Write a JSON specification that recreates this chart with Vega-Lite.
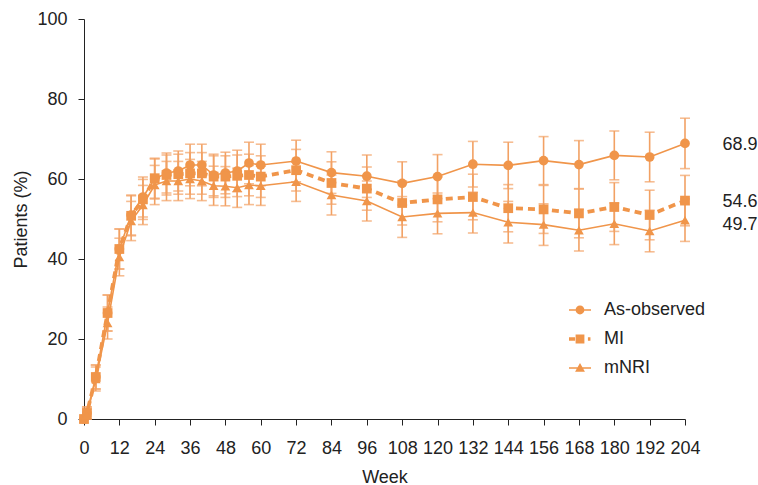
{
  "$schema": "https://vega.github.io/schema/vega-lite/v6.json",
  "width": 601,
  "height": 400,
  "autosize": {"type": "none"},
  "padding": {"left": 84, "top": 19, "right": 73, "bottom": 66},
  "background": "white",
  "config": {
    "view": {"stroke": null},
    "font": "Liberation Sans",
    "axis": {
      "domainColor": "#222222", "tickColor": "#222222", "labelColor": "#222222", "titleColor": "#222222",
      "labelFontSize": 18, "titleFontSize": 18, "titleFontWeight": "normal",
      "labelFont": "Liberation Sans", "titleFont": "Liberation Sans",
      "tickSize": 6, "grid": false, "domainWidth": 1, "tickWidth": 1
    },
    "legend": {"labelFont": "Liberation Sans"}
  },
  "datasets": {
    "main": [
      {"week": 0, "series": "As-observed", "value": 0, "lower": 0, "upper": 0},
      {"week": 1, "series": "As-observed", "value": 1.5, "lower": 0, "upper": 3},
      {"week": 4, "series": "As-observed", "value": 10.5, "lower": 7.5, "upper": 13.5},
      {"week": 8, "series": "As-observed", "value": 26.5, "lower": 22, "upper": 31},
      {"week": 12, "series": "As-observed", "value": 42.5, "lower": 37.5, "upper": 47.5},
      {"week": 16, "series": "As-observed", "value": 51, "lower": 46, "upper": 56},
      {"week": 20, "series": "As-observed", "value": 55.5, "lower": 50.5, "upper": 60.5},
      {"week": 24, "series": "As-observed", "value": 60, "lower": 55, "upper": 65},
      {"week": 28, "series": "As-observed", "value": 61.5, "lower": 56.5, "upper": 66.5},
      {"week": 32, "series": "As-observed", "value": 62, "lower": 57, "upper": 67},
      {"week": 36, "series": "As-observed", "value": 63.5, "lower": 58.3, "upper": 68.7},
      {"week": 40, "series": "As-observed", "value": 63.5, "lower": 58.3, "upper": 68.7},
      {"week": 44, "series": "As-observed", "value": 61, "lower": 55.8, "upper": 66.2},
      {"week": 48, "series": "As-observed", "value": 61.5, "lower": 56.3, "upper": 66.7},
      {"week": 52, "series": "As-observed", "value": 62, "lower": 56.8, "upper": 67.2},
      {"week": 56, "series": "As-observed", "value": 64, "lower": 58.8, "upper": 69.2},
      {"week": 60, "series": "As-observed", "value": 63.5, "lower": 58.3, "upper": 68.7},
      {"week": 72, "series": "As-observed", "value": 64.5, "lower": 59.3, "upper": 69.7},
      {"week": 84, "series": "As-observed", "value": 61.6, "lower": 56.4, "upper": 66.8},
      {"week": 96, "series": "As-observed", "value": 60.7, "lower": 55.4, "upper": 66},
      {"week": 108, "series": "As-observed", "value": 58.9, "lower": 53.5, "upper": 64.3},
      {"week": 120, "series": "As-observed", "value": 60.6, "lower": 55.1, "upper": 66.1},
      {"week": 132, "series": "As-observed", "value": 63.7, "lower": 58, "upper": 69.4},
      {"week": 144, "series": "As-observed", "value": 63.4, "lower": 57.6, "upper": 69.2},
      {"week": 156, "series": "As-observed", "value": 64.6, "lower": 58.6, "upper": 70.6},
      {"week": 168, "series": "As-observed", "value": 63.6, "lower": 57.6, "upper": 69.6},
      {"week": 180, "series": "As-observed", "value": 65.9, "lower": 59.8, "upper": 72},
      {"week": 192, "series": "As-observed", "value": 65.5, "lower": 59.3, "upper": 71.7},
      {"week": 204, "series": "As-observed", "value": 68.9, "lower": 62.6, "upper": 75.2},
      {"week": 0, "series": "MI", "value": 0, "lower": 0, "upper": 0},
      {"week": 1, "series": "MI", "value": 1.5, "lower": 0, "upper": 3},
      {"week": 4, "series": "MI", "value": 10.5, "lower": 7.5, "upper": 13.5},
      {"week": 8, "series": "MI", "value": 26.5, "lower": 22, "upper": 31},
      {"week": 12, "series": "MI", "value": 42.5, "lower": 37.5, "upper": 47.5},
      {"week": 16, "series": "MI", "value": 50.8, "lower": 45.8, "upper": 55.8},
      {"week": 20, "series": "MI", "value": 54.9, "lower": 49.9, "upper": 59.9},
      {"week": 24, "series": "MI", "value": 60.2, "lower": 55.2, "upper": 65.2},
      {"week": 28, "series": "MI", "value": 61, "lower": 56, "upper": 66},
      {"week": 32, "series": "MI", "value": 61.2, "lower": 56.2, "upper": 66.2},
      {"week": 36, "series": "MI", "value": 61.4, "lower": 56.2, "upper": 66.6},
      {"week": 40, "series": "MI", "value": 61.4, "lower": 56.2, "upper": 66.6},
      {"week": 44, "series": "MI", "value": 60.6, "lower": 55.4, "upper": 65.8},
      {"week": 48, "series": "MI", "value": 60.6, "lower": 55.4, "upper": 65.8},
      {"week": 52, "series": "MI", "value": 60.8, "lower": 55.6, "upper": 66},
      {"week": 56, "series": "MI", "value": 61, "lower": 55.8, "upper": 66.2},
      {"week": 60, "series": "MI", "value": 60.6, "lower": 55.4, "upper": 65.8},
      {"week": 72, "series": "MI", "value": 62.2, "lower": 57, "upper": 67.4},
      {"week": 84, "series": "MI", "value": 59, "lower": 53.7, "upper": 64.3},
      {"week": 96, "series": "MI", "value": 57.6, "lower": 52.2, "upper": 63},
      {"week": 108, "series": "MI", "value": 54, "lower": 48.5, "upper": 59.5},
      {"week": 120, "series": "MI", "value": 54.9, "lower": 49.3, "upper": 60.5},
      {"week": 132, "series": "MI", "value": 55.5, "lower": 49.8, "upper": 61.2},
      {"week": 144, "series": "MI", "value": 52.7, "lower": 46.8, "upper": 58.6},
      {"week": 156, "series": "MI", "value": 52.4, "lower": 46.4, "upper": 58.4},
      {"week": 168, "series": "MI", "value": 51.4, "lower": 45.3, "upper": 57.5},
      {"week": 180, "series": "MI", "value": 53, "lower": 46.9, "upper": 59.1},
      {"week": 192, "series": "MI", "value": 51, "lower": 44.8, "upper": 57.2},
      {"week": 204, "series": "MI", "value": 54.6, "lower": 48.3, "upper": 60.9},
      {"week": 0, "series": "mNRI", "value": 0, "lower": 0, "upper": 0},
      {"week": 1, "series": "mNRI", "value": 1, "lower": 0, "upper": 2.5},
      {"week": 4, "series": "mNRI", "value": 10, "lower": 7, "upper": 13},
      {"week": 8, "series": "mNRI", "value": 24, "lower": 20, "upper": 28},
      {"week": 12, "series": "mNRI", "value": 40.5, "lower": 35.8, "upper": 45.2},
      {"week": 16, "series": "mNRI", "value": 49.5, "lower": 44.6, "upper": 54.4},
      {"week": 20, "series": "mNRI", "value": 53.5, "lower": 48.6, "upper": 58.4},
      {"week": 24, "series": "mNRI", "value": 58.5, "lower": 53.6, "upper": 63.4},
      {"week": 28, "series": "mNRI", "value": 59.5, "lower": 54.6, "upper": 64.4},
      {"week": 32, "series": "mNRI", "value": 59.5, "lower": 54.6, "upper": 64.4},
      {"week": 36, "series": "mNRI", "value": 60, "lower": 55.1, "upper": 64.9},
      {"week": 40, "series": "mNRI", "value": 59.5, "lower": 54.6, "upper": 64.4},
      {"week": 44, "series": "mNRI", "value": 58.3, "lower": 53.4, "upper": 63.2},
      {"week": 48, "series": "mNRI", "value": 58.2, "lower": 53.3, "upper": 63.1},
      {"week": 52, "series": "mNRI", "value": 57.8, "lower": 52.9, "upper": 62.7},
      {"week": 56, "series": "mNRI", "value": 58.5, "lower": 53.6, "upper": 63.4},
      {"week": 60, "series": "mNRI", "value": 58.3, "lower": 53.4, "upper": 63.2},
      {"week": 72, "series": "mNRI", "value": 59.3, "lower": 54.4, "upper": 64.2},
      {"week": 84, "series": "mNRI", "value": 56, "lower": 51, "upper": 61},
      {"week": 96, "series": "mNRI", "value": 54.5, "lower": 49.5, "upper": 59.5},
      {"week": 108, "series": "mNRI", "value": 50.5, "lower": 45.4, "upper": 55.6},
      {"week": 120, "series": "mNRI", "value": 51.4, "lower": 46.3, "upper": 56.5},
      {"week": 132, "series": "mNRI", "value": 51.6, "lower": 46.5, "upper": 56.7},
      {"week": 144, "series": "mNRI", "value": 49.2, "lower": 44, "upper": 54.4},
      {"week": 156, "series": "mNRI", "value": 48.6, "lower": 43.4, "upper": 53.8},
      {"week": 168, "series": "mNRI", "value": 47.2, "lower": 42, "upper": 52.4},
      {"week": 180, "series": "mNRI", "value": 48.8, "lower": 43.6, "upper": 54},
      {"week": 192, "series": "mNRI", "value": 47, "lower": 41.8, "upper": 52.2},
      {"week": 204, "series": "mNRI", "value": 49.7, "lower": 44.4, "upper": 55}
    ],
    "labels": [
      {"week": 204, "series": "As-observed", "value": 68.9, "label": "68.9"},
      {"week": 204, "series": "MI", "value": 54.6, "label": "54.6"},
      {"week": 204, "series": "mNRI", "value": 49.7, "label": "49.7"}
    ]
  },
  "data": {"name": "main"},
  "encoding": {
    "x": {
      "field": "week", "type": "quantitative",
      "scale": {"domain": [0, 204], "nice": false, "zero": false},
      "axis": {"title": "Week", "values": [0, 12, 24, 36, 48, 60, 72, 84, 96, 108, 120, 132, 144, 156, 168, 180, 192, 204], "labelPadding": 14, "titlePadding": 11, "labelFlush": false}
    }
  },
  "layer": [
    {
      "mark": {"type": "rule", "color": "#F2A164", "strokeWidth": 1.6},
      "encoding": {
        "y": {"field": "lower", "type": "quantitative", "scale": {"domain": [0, 100], "nice": false}, "axis": {"title": "Patients (%)", "values": [0, 20, 40, 60, 80, 100], "labelPadding": 11, "titlePadding": 6}},
        "y2": {"field": "upper"}
      }
    },
    {
      "mark": {"type": "tick", "orient": "horizontal", "color": "#F2A164", "size": 10, "thickness": 1.6},
      "encoding": {"y": {"field": "lower", "type": "quantitative"}}
    },
    {
      "mark": {"type": "tick", "orient": "horizontal", "color": "#F2A164", "size": 10, "thickness": 1.6},
      "encoding": {"y": {"field": "upper", "type": "quantitative"}}
    },
    {
      "transform": [{"filter": "datum.series !== 'MI'"}],
      "mark": {"type": "line", "color": "#F0954A", "strokeWidth": 1.6},
      "encoding": {
        "y": {"field": "value", "type": "quantitative"},
        "detail": {"field": "series"}
      }
    },
    {
      "transform": [{"filter": "datum.series === 'MI'"}],
      "mark": {"type": "line", "color": "#F0954A", "strokeWidth": 3.8, "strokeDash": [7, 5]},
      "encoding": {
        "y": {"field": "value", "type": "quantitative"}
      }
    },
    {
      "mark": {"type": "point", "filled": true, "color": "#F0954A", "opacity": 1, "size": 95},
      "encoding": {
        "y": {"field": "value", "type": "quantitative"},
        "shape": {"field": "series", "type": "nominal", "scale": {"domain": ["As-observed", "MI", "mNRI"], "range": ["circle", "square", "triangle-up"]}, "legend": null}
      }
    },
    {
      "transform": [{"filter": "datum.week < 0"}],
      "mark": {"type": "point", "filled": true, "color": "#F0954A", "opacity": 1, "size": 484, "strokeWidth": 0},
      "encoding": {
        "y": {"field": "value", "type": "quantitative"},
        "shape": {
          "field": "series", "type": "nominal",
          "scale": {"domain": ["As-observed", "MI", "mNRI"], "range": [
            "M-1,-0.07H1V0.07H-1ZM0.4,0A0.4,0.4,0,1,1,-0.4,0A0.4,0.4,0,1,1,0.4,0Z",
            "M-1,-0.15H-0.45V0.15H-1ZM0.72,-0.15H0.95V0.15H0.72ZM-0.4,-0.4H0.4V0.4H-0.4Z",
            "M-1,-0.07H1V0.07H-1ZM0,-0.45L0.45,0.35H-0.45Z"
          ]},
          "legend": {
            "title": null, "orient": "none", "legendX": 485, "legendY": 280,
            "symbolSize": 484, "symbolStrokeWidth": 0, "symbolFillColor": "#F0954A", "symbolOpacity": 1,
            "labelFontSize": 18, "labelColor": "#222222", "labelOffset": 13, "rowPadding": 9
          }
        }
      }
    },
    {
      "data": {"name": "labels"},
      "transform": [{"filter": "datum.series !== 'mNRI'"}],
      "mark": {"type": "text", "fontSize": 18, "color": "#222222", "align": "center", "dx": 55, "dy": 1.5},
      "encoding": {"y": {"field": "value", "type": "quantitative"}, "text": {"field": "label"}}
    },
    {
      "data": {"name": "labels"},
      "transform": [{"filter": "datum.series === 'mNRI'"}],
      "mark": {"type": "text", "fontSize": 18, "color": "#222222", "align": "center", "dx": 55, "dy": 5},
      "encoding": {"y": {"field": "value", "type": "quantitative"}, "text": {"field": "label"}}
    }
  ],
  "resolve": {"scale": {"shape": "independent"}, "legend": {"shape": "independent"}}
}
